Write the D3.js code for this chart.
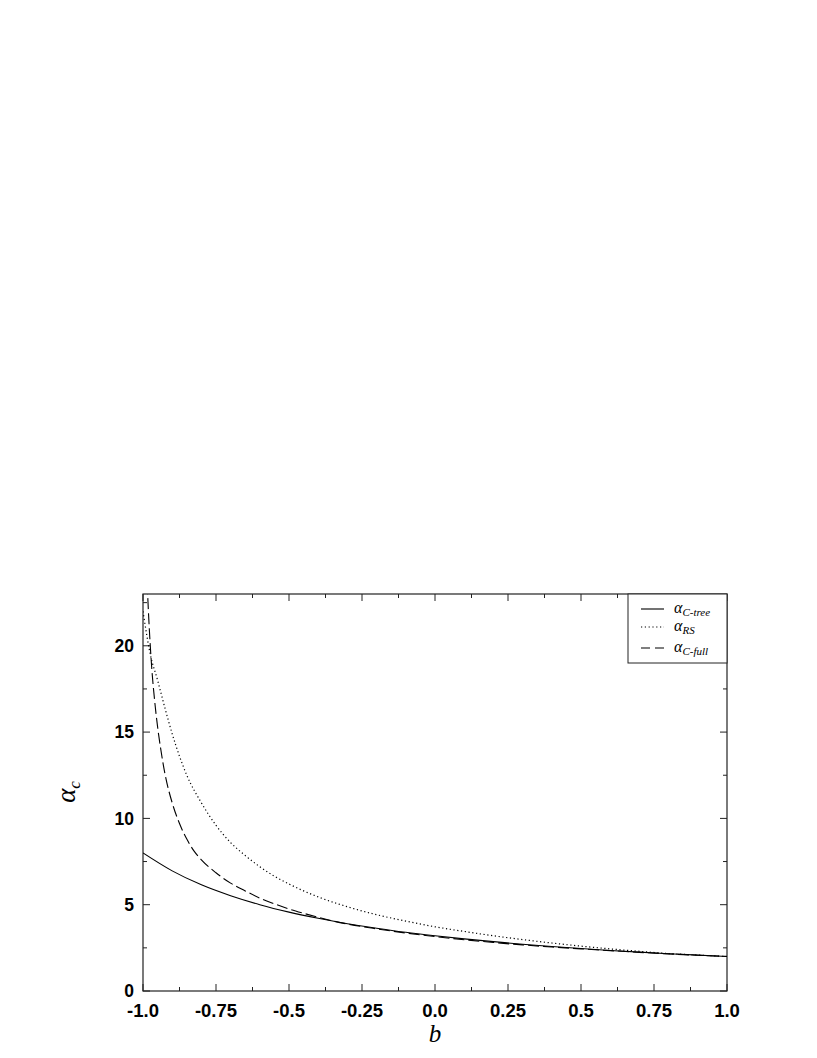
<!DOCTYPE html>
<html><head><meta charset="utf-8">
<script src="https://cdn.jsdelivr.net/npm/d3@7"></script>
<style>body{margin:0;background:#fff}</style>
</head><body>
<svg id="c" width="817" height="1058"></svg>
<script>
const xTicks = [-1.0, -0.75, -0.5, -0.25, 0.0, 0.25, 0.5, 0.75, 1.0];
const xTickLabels = ["-1.0", "-0.75", "-0.5", "-0.25", "0.0", "0.25", "0.5", "0.75", "1.0"];
const xMinor = [-0.875, -0.625, -0.375, -0.125, 0.125, 0.375, 0.625, 0.875];
const yTicks = [0, 5, 10, 15, 20];
const yTickLabels = ["0", "5", "10", "15", "20"];
const yMinor = [2.5, 7.5, 12.5, 17.5, 22.5];

const bTree = [-1.0, -0.9, -0.8, -0.7, -0.6, -0.5, -0.4, -0.3, -0.2, -0.1, 0.0, 0.1, 0.2, 0.3, 0.4, 0.5, 0.6, 0.7, 0.8, 0.9, 1.0];
const alphaTree = [8.0, 6.96, 6.15, 5.52, 5.0, 4.57, 4.21, 3.9, 3.64, 3.4, 3.2, 3.02, 2.86, 2.71, 2.58, 2.46, 2.35, 2.25, 2.16, 2.08, 2.0];

const bRS = [-1.0, -0.975, -0.95, -0.925, -0.9, -0.875, -0.85, -0.8, -0.75, -0.7, -0.65, -0.6, -0.55, -0.5, -0.45, -0.4, -0.3, -0.2, -0.1, 0.0, 0.1, 0.2, 0.3, 0.4, 0.5, 0.6, 0.7, 0.8, 0.9, 1.0];
const alphaRS = [22.0, 19.5, 18.0, 16.4, 14.9, 13.6, 12.5, 10.9, 9.6, 8.6, 7.85, 7.2, 6.65, 6.2, 5.8, 5.45, 4.88, 4.42, 4.05, 3.72, 3.45, 3.2, 2.98, 2.78, 2.6, 2.44, 2.3, 2.17, 2.08, 2.0];

const bFull = [-0.988, -0.98, -0.97, -0.96, -0.95, -0.94, -0.925, -0.9, -0.875, -0.85, -0.825, -0.8, -0.75, -0.7, -0.65, -0.6, -0.55, -0.5, -0.45, -0.4, -0.35, -0.3, -0.2, -0.1, 0.0, 0.1, 0.2, 0.3, 0.4, 0.5, 0.6, 0.7, 0.8, 0.9, 1.0];
const alphaFull = [24.5, 21.5, 18.7, 16.8, 15.3, 14.1, 12.6, 10.9, 9.7, 8.8, 8.1, 7.6, 6.85, 6.25, 5.8, 5.38, 5.05, 4.75, 4.5, 4.27, 4.06, 3.88, 3.6, 3.36, 3.15, 2.97, 2.81, 2.67, 2.55, 2.44, 2.34, 2.24, 2.15, 2.07, 2.0];

const svg = d3.select("#c");
const L = 143, R = 727, T = 594, B = 991;
const x = d3.scaleLinear().domain([-1, 1]).range([L, R]);
const y = d3.scaleLinear().domain([0, 23]).range([B, T]);
const axisColor = "#222";

svg.append("defs").append("clipPath").attr("id", "clip")
  .append("rect").attr("x", L).attr("y", T).attr("width", R - L).attr("height", B - T);

// ticks (inward, all four sides)
const tg = svg.append("g").attr("stroke", axisColor).attr("stroke-width", 1);
const MJ = 7, MN = 4;
xTicks.forEach(v => {
  tg.append("line").attr("x1", x(v)).attr("x2", x(v)).attr("y1", B).attr("y2", B - MJ);
  tg.append("line").attr("x1", x(v)).attr("x2", x(v)).attr("y1", T).attr("y2", T + MJ);
});
xMinor.forEach(v => {
  tg.append("line").attr("x1", x(v)).attr("x2", x(v)).attr("y1", B).attr("y2", B - MN);
  tg.append("line").attr("x1", x(v)).attr("x2", x(v)).attr("y1", T).attr("y2", T + MN);
});
yTicks.forEach(v => {
  tg.append("line").attr("y1", y(v)).attr("y2", y(v)).attr("x1", L).attr("x2", L + MJ);
  tg.append("line").attr("y1", y(v)).attr("y2", y(v)).attr("x1", R).attr("x2", R - MJ);
});
yMinor.forEach(v => {
  tg.append("line").attr("y1", y(v)).attr("y2", y(v)).attr("x1", L).attr("x2", L + MN);
  tg.append("line").attr("y1", y(v)).attr("y2", y(v)).attr("x1", R).attr("x2", R - MN);
});

// frame
svg.append("rect").attr("x", L).attr("y", T).attr("width", R - L).attr("height", B - T)
  .attr("fill", "none").attr("stroke", axisColor).attr("stroke-width", 1.2);

// tick labels
const lab = svg.append("g").attr("font-family", "Liberation Sans, Arial, sans-serif")
  .attr("font-weight", "bold").attr("fill", "#000");
xTicks.forEach((v, i) => {
  lab.append("text").attr("x", x(v)).attr("y", 1016.5).attr("text-anchor", "middle")
    .attr("font-size", 18.5).text(xTickLabels[i]);
});
yTicks.forEach((v, i) => {
  lab.append("text").attr("x", 134).attr("y", y(v) + 6.2).attr("text-anchor", "end")
    .attr("font-size", 17.5).text(yTickLabels[i]);
});

// axis titles
svg.append("text").attr("x", 435).attr("y", 1042).attr("text-anchor", "middle")
  .attr("font-family", "Liberation Serif, Times New Roman, serif").attr("font-style", "italic")
  .attr("font-size", 25).text("b");
const yt = svg.append("text").attr("transform", "translate(75,792) rotate(-90)")
  .attr("text-anchor", "middle")
  .attr("font-family", "Liberation Serif, Times New Roman, serif").attr("font-style", "italic")
  .attr("font-size", 27);
yt.append("tspan").text("α");
yt.append("tspan").attr("font-size", 17).attr("dy", 5).text("c");

// curves
const line = d3.line().x(d => x(d[0])).y(d => y(d[1])).curve(d3.curveMonotoneX);
const plot = svg.append("g").attr("clip-path", "url(#clip)").attr("fill", "none").attr("stroke", "#000");
plot.append("path").datum(bTree.map((b, i) => [b, alphaTree[i]])).attr("d", line)
  .attr("stroke-width", 1.1);
plot.append("path").datum(bRS.map((b, i) => [b, alphaRS[i]])).attr("d", line)
  .attr("stroke-width", 1.2).attr("stroke-dasharray", "1.2,2.6");
plot.append("path").datum(bFull.map((b, i) => [b, alphaFull[i]])).attr("d", line)
  .attr("stroke-width", 1.1).attr("stroke-dasharray", "11,4");

// legend
const lg = svg.append("g");
lg.append("rect").attr("x", 628).attr("y", T).attr("width", R - 628).attr("height", 69)
  .attr("fill", "#fff").attr("stroke", axisColor).attr("stroke-width", 1);
const legendNames = ["C-tree", "RS", "C-full"];
const legendDash = [null, "1.2,2.6", "9,5"];
const legendY = [609, 627, 648];
legendNames.forEach((n, i) => {
  const ln = lg.append("line").attr("x1", 641).attr("x2", 664).attr("y1", legendY[i]).attr("y2", legendY[i])
    .attr("stroke", "#000").attr("stroke-width", 1.1);
  if (legendDash[i]) ln.attr("stroke-dasharray", legendDash[i]);
  const t = lg.append("text").attr("x", 674).attr("y", legendY[i] + 4)
    .attr("font-family", "Liberation Serif, Times New Roman, serif").attr("font-style", "italic")
    .attr("font-size", 16);
  t.append("tspan").text("α");
  t.append("tspan").attr("font-size", 11).attr("dy", 3).text(n);
});
</script>
</body></html>
